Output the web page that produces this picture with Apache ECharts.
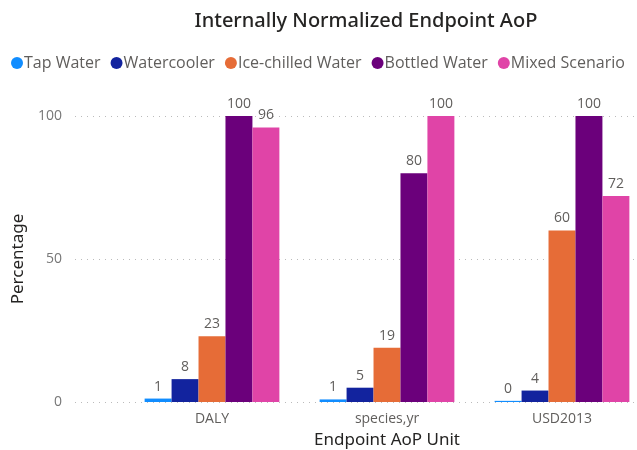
<html>
<head>
<meta charset="utf-8">
<title>Internally Normalized Endpoint AoP</title>
<script src="https://cdn.jsdelivr.net/npm/echarts@6/dist/echarts.min.js"></script>
<style type="text/css">
body{
	margin:0;
	background-color:white;
}
</style>
</head>
<body>
	<div id="chart" style="width: 637px;height:450px;"></div>
	<script type="text/javascript">
	var units = ['DALY', 'species,yr', 'USD2013'];
	var tapWater = [1.2, 0.9, 0.4];
	var watercooler = [8, 5, 4];
	var iceChilled = [23, 19, 60];
	var bottled = [100, 80, 100];
	var mixed = [96, 100, 72];
	var yTicks = [0, 50, 100];

	var grey = '#605E5C';
	var font = '"Open Sans", "Noto Sans", sans-serif';

	function bar(name, color, data) {
		return {
			name: name,
			type: 'bar',
			xAxisIndex: 1,
			yAxisIndex: 1,
			barGap: '0%',
			barCategoryGap: '23%',
			itemStyle: { color: color },
			label: {
				show: true,
				position: 'top',
				distance: 5,
				color: grey,
				fontSize: 14,
				fontFamily: font,
				formatter: function (p) { return Math.round(p.value); }
			},
			data: data
		};
	}

	var myChart = echarts.init(document.getElementById('chart'));
	var option = {
		animation: false,
		color: ['#118DFF', '#12239E', '#E66C37', '#6B007B', '#E044A7'],
		title: {
			text: 'Internally Normalized Endpoint AoP',
			left: 361,
			textAlign: 'center',
			top: 6,
			textStyle: { fontSize: 20, fontWeight: 500, color: '#252423', fontFamily: '"Noto Sans", sans-serif' }
		},
		legend: {
			left: 6,
			top: 50,
			icon: 'circle',
			itemWidth: 12,
			itemHeight: 12,
			itemGap: 10,
			textStyle: { fontSize: 16, color: grey, fontFamily: font, padding: [0, 0, 0, -4] },
			data: ['Tap Water', 'Watercooler', 'Ice-chilled Water', 'Bottled Water', 'Mixed Scenario']
		},
		grid: [
			{ left: 75, right: 0, top: 116, bottom: 48, outerBoundsMode: 'none' },
			{ left: 124.5, right: -12.5, top: 116, bottom: 48, outerBoundsMode: 'none' }
		],
		xAxis: [
			{ gridIndex: 0, type: 'category', data: units, show: false },
			{
				gridIndex: 1,
				type: 'category',
				data: units,
				axisLine: { show: false },
				axisTick: { show: false },
				axisLabel: { color: grey, fontSize: 14, fontFamily: font, margin: 10 },
				name: 'Endpoint AoP Unit',
				nameLocation: 'middle',
				nameGap: 30,
				nameTextStyle: { color: '#252423', fontSize: 17, fontFamily: '"Noto Sans", sans-serif' }
			}
		],
		yAxis: [
			{
				gridIndex: 0,
				type: 'value',
				min: yTicks[0],
				max: yTicks[yTicks.length - 1],
				interval: 50,
				axisLine: { show: false },
				axisTick: { show: false },
				axisLabel: { color: '#777777', fontSize: 14, fontFamily: font, margin: 13 },
				splitLine: { lineStyle: { type: [1, 5], color: '#BBBBBB', width: 1 } },
				name: 'Percentage',
				nameLocation: 'middle',
				nameGap: 41,
				nameTextStyle: { color: '#252423', fontSize: 17, fontFamily: '"Noto Sans", sans-serif' }
			},
			{
				gridIndex: 1,
				type: 'value',
				min: yTicks[0],
				max: yTicks[yTicks.length - 1],
				show: false
			}
		],
		series: [
			bar('Tap Water', '#118DFF', tapWater),
			bar('Watercooler', '#12239E', watercooler),
			bar('Ice-chilled Water', '#E66C37', iceChilled),
			bar('Bottled Water', '#6B007B', bottled),
			bar('Mixed Scenario', '#E044A7', mixed)
		]
	};
	myChart.setOption(option);
	</script>
</body>
</html>
